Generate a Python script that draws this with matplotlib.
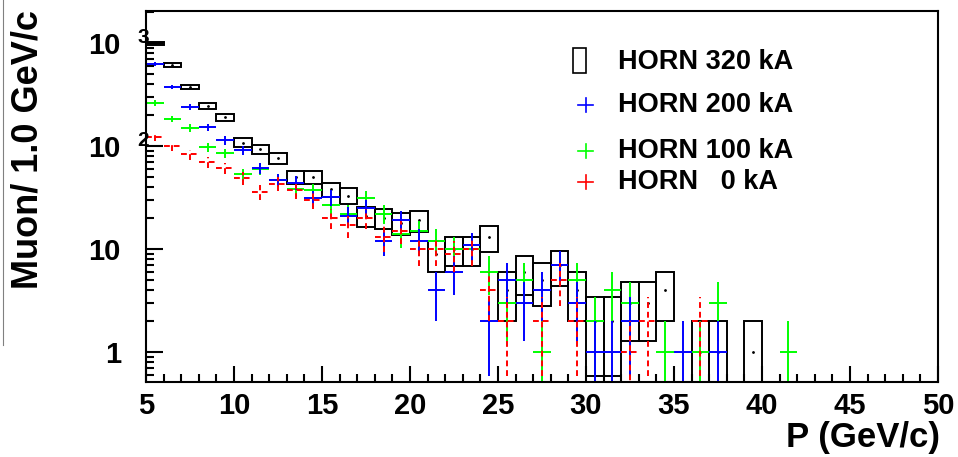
import matplotlib.pyplot as plt
from matplotlib.lines import Line2D
import numpy as np

# muon counts per 1 GeV/c bin, bins start at 5 GeV/c
p_low = np.arange(5, 42)
horn320 = [1000, 610, 375, 245, 190, 108, 93, 76, 50, 50, 38, 33, 21, 20, 18, 19, 9, 10, 10, 13,
           4, 6, 5, 7, 4, 2, 2, 3, 3, 4, 0, 1, 1, 0, 1, 0, 0]
horn200 = [625, 375, 240, 153, 114, 91, 61, 47, 44, 31, 32, 21, 25, 12, 19, 12, 4, 6, 11, 2,
           5, 3, 4, 7, 3, 1, 1, 2, 0, 0, 1, 0, 1, 0, 0, 0, 0]
horn100 = [262, 183, 150, 98, 85, 53, 60, 47, 38, 37, 27, 22, 31, 22, 14, 15, 12, 10, 10, 6,
           3, 5, 1, 0, 5, 2, 4, 3, 0, 1, 0, 1, 3, 0, 0, 0, 1]
horn0 = [122, 100, 83, 70, 61, 49, 36, 43, 37, 30, 20, 17, 20, 13, 15, 10, 10, 9, 10, 4,
         2, 0, 2, 5, 2, 0, 0, 1, 2, 0, 0, 2, 0, 0, 0, 0, 0]

legend_labels = ['HORN 320 kA', 'HORN 200 kA', 'HORN 100 kA', 'HORN   0 kA']
yticks = [1, 10, 100, 1000]
ytick_labels = ['1', '10', '10', '10']
exponents = {100: '2', 1000: '3'}

W, H = 958, 457
FONT = 'Liberation Sans'
LW = 1.4

fig = plt.figure(figsize=(W / 100, H / 100), dpi=100)
ax = fig.add_axes([146 / W, 1 - 382 / H, 792 / W, 371 / H])
ax.set_yscale('log')
ax.set_xlim(5, 50)
ax.set_ylim(0.51, 2050)


def draw_crosses(counts, color, dashed=False):
    for x0, n in zip(p_low, counts):
        if n <= 0:
            continue
        err = np.sqrt(n)
        lo = max(n - err, 1e-3)
        ls = (0, (3, 2)) if dashed else '-'
        ax.plot([x0, x0 + 1], [n, n], color=color, lw=LW, ls=ls, solid_capstyle='butt')
        ax.plot([x0 + 0.5, x0 + 0.5], [lo, n + err], color=color, lw=LW, ls=ls,
                solid_capstyle='butt')


# black error boxes
for x0, n in zip(p_low, horn320):
    if n <= 0:
        continue
    err = np.sqrt(n)
    lo = max(n - err, 1e-3)
    ax.bar(x0, n + err - lo, bottom=lo, width=1, align='edge', fill=False,
           edgecolor='black', linewidth=LW)
    ax.plot(x0 + 0.5, n, '.', color='black', ms=2)

draw_crosses(horn100, (0, 1, 0))
draw_crosses(horn200, (0, 0, 1))
draw_crosses(horn0, (1, 0, 0), dashed=True)

# axes styling, ROOT look
for side in ['top', 'right', 'left', 'bottom']:
    ax.spines[side].set_linewidth(1.5)
ax.set_xticks(np.arange(5, 51, 5))
ax.set_xticks(np.arange(5, 51, 1), minor=True)
ax.set_yticks(yticks, ytick_labels)
ax.tick_params(which='both', direction='in', top=False, right=False, width=1.5)
ax.tick_params(axis='x', which='major', length=11.5, pad=7)
ax.tick_params(axis='x', which='minor', length=5.5)
ax.tick_params(axis='y', which='major', length=12, pad=18)
ax.tick_params(axis='y', which='minor', length=6)
for lab in ax.get_xticklabels() + ax.get_yticklabels():
    lab.set_fontfamily(FONT)
    lab.set_fontweight('bold')
    lab.set_fontsize(21)

for val, e in exponents.items():
    ax.text(-9 / 792, val, e, transform=ax.get_yaxis_transform(), ha='left', va='baseline',
            fontsize=15, fontweight='bold', family=FONT)

fig.text(940 / W, 1 - 437 / H, 'P (GeV/c)', ha='right', va='center', fontsize=25,
         fontweight='bold', family=FONT)
fig.text(28 / W, 1 - 10 / H, 'Muon/ 1.0 GeV/c', ha='center', va='top', rotation=90,
         fontsize=26, fontweight='bold', family=FONT)

# legend drawn by hand
text_y = [62, 105, 151, 182]
fig.patches.append(plt.Rectangle((573 / W, 1 - 73 / H), 13 / W, 25 / H, fill=False,
                                 edgecolor='black', lw=1.2, transform=fig.transFigure))
for ty, col in zip(text_y[1:], [(0, 0, 1), (0, 1, 0), (1, 0, 0)]):
    fig.add_artist(Line2D([578 / W, 593 / W], [1 - ty / H, 1 - ty / H], color=col, lw=1.2))
    fig.add_artist(Line2D([585.5 / W, 585.5 / W], [1 - (ty - 7) / H, 1 - (ty + 7) / H],
                          color=col, lw=1.2))
for ty, lab in zip(text_y, legend_labels):
    fig.text(618 / W, 1 - ty / H, lab, ha='left', va='center', fontsize=19.5,
             fontweight='bold', family=FONT)

# leftover edge of the neighbouring panel
fig.add_artist(Line2D([3 / W, 3 / W], [1, 1 - 345 / H], color='grey', lw=0.8))

fig.savefig('out.png', dpi=100)
